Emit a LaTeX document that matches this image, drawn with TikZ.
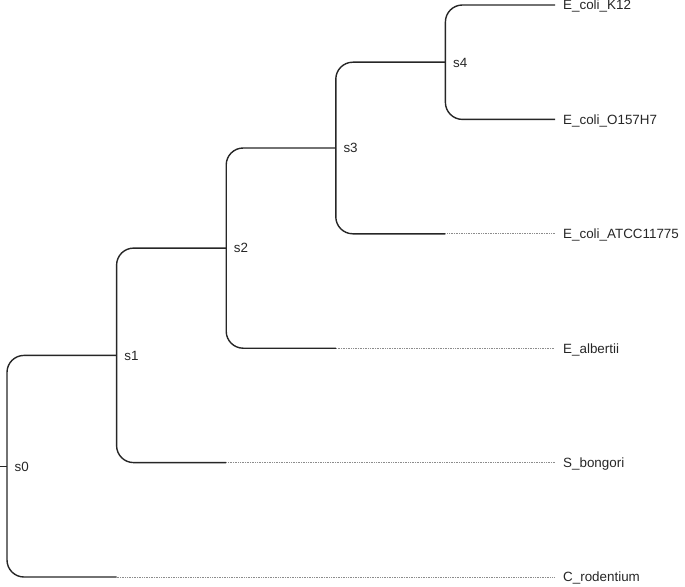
\documentclass[tikz,border=0pt]{standalone}
\usepackage{fontspec}
\setmainfont{Liberation Sans}
\begin{document}
\begin{tikzpicture}[x=1pt,y=-1pt,
  branch/.style={line width=1.4pt, rounded corners=17pt, color=black!85},
  ext/.style={color=black!45, line width=0.9pt, dash pattern=on 1pt off 0.7pt},
  lbl/.style={anchor=base west, inner sep=0pt, yshift=-4.8pt, font=\fontsize{13.4}{15}\selectfont, text=black!85}]
\useasboundingbox (0,0) rectangle (685,586);
% internal node positions
\coordinate (root) at (0,466.2);
\coordinate (n0) at (7,466.2);
\coordinate (n1) at (116.6,355.4);
\coordinate (n2) at (226.2,248.1);
\coordinate (n3) at (335.8,148);
\coordinate (n4) at (445.4,62.2);
% leaf tips
\coordinate (tK) at (555,5);
\coordinate (tO) at (555,119.4);
\coordinate (tA) at (555,233.8);
\coordinate (tE) at (555,348.2);
\coordinate (tS) at (555,462.6);
\coordinate (tC) at (555,577);
% branches
\draw[branch] (root) -- (n0);
\draw[branch] (tK) -- (n4 |- tK) -- (n4 |- tO) -- (tO);
\draw[branch] (n4) -- (n3 |- n4) -- (n3 |- tA) -- (n4 |- tA);
\draw[ext] (n4 |- tA) -- (tA);
\draw[branch] (n3) -- (n2 |- n3) -- (n2 |- tE) -- (n3 |- tE);
\draw[ext] (n3 |- tE) -- (tE);
\draw[branch] (n2) -- (n1 |- n2) -- (n1 |- tS) -- (n2 |- tS);
\draw[ext] (n2 |- tS) -- (tS);
\draw[branch] (n1) -- (n0 |- n1) -- (n0 |- tC) -- (n1 |- tC);
\draw[ext] (n1 |- tC) -- (tC);
% internal labels
\node[lbl, xshift=7.5pt] (s0) at (n0) {s0};
\node[lbl, xshift=7.5pt] (s1) at (n1) {s1};
\node[lbl, xshift=7.5pt] (s2) at (n2) {s2};
\node[lbl, xshift=7.5pt] (s3) at (n3) {s3};
\node[lbl, xshift=7.5pt] (s4) at (n4) {s4};
% leaf labels
\node[lbl, xshift=8pt] (lK) at (tK) {E\_coli\_K12};
\node[lbl, xshift=8pt] (lO) at (tO) {E\_coli\_O157H7};
\node[lbl, xshift=8pt] (lA) at (tA) {E\_coli\_ATCC11775};
\node[lbl, xshift=8pt] (lE) at (tE) {E\_albertii};
\node[lbl, xshift=8pt] (lS) at (tS) {S\_bongori};
\node[lbl, xshift=8pt] (lC) at (tC) {C\_rodentium};
\end{tikzpicture}
\end{document}
